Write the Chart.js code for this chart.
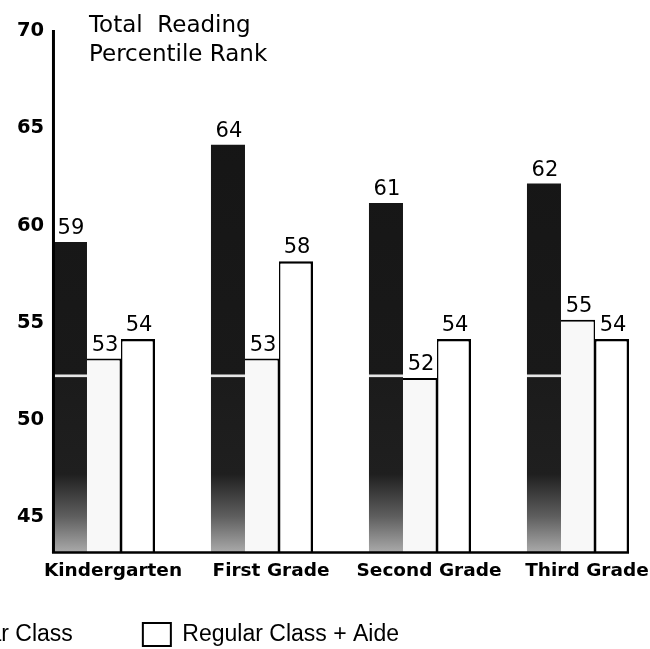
<!DOCTYPE html>
<html>
<head>
<meta charset="utf-8">
<script src="https://cdn.jsdelivr.net/npm/chart.js@4.4.0/dist/chart.umd.min.js"></script>
<style>
  html, body { margin: 0; padding: 0; background: #fff; overflow: hidden; width: 650px; height: 649px; }
  #wrap { position: absolute; left: -412px; top: 0; width: 1072px; height: 656px; }
</style>
</head>
<body>
<div id="wrap"><canvas id="chart" width="1072" height="656"></canvas></div>
<script>
// Total Reading percentile rank by grade and class type
const grades = ['Kindergarten', 'First Grade', 'Second Grade', 'Third Grade'];
const smallClass = [59, 64, 61, 62];
const regularClass = [53, 53, 52, 55];
const regularAide = [54, 58, 54, 54];
const seriesNames = ['Small Class', 'Regular Class', 'Regular Class + Aide'];
const yTicks = [45, 50, 55, 60, 65, 70];
const titleLines = ['Total  Reading', 'Percentile Rank'];

const INK = '#000';
const SEAM_VALUE = 52.1;   // light streak across the dark bars

let darkFill = null, darkKey = '';
function smallClassFill(ctx) {
  const chart = ctx.chart;
  const a = chart.chartArea;
  const ys = chart.scales && chart.scales.y;
  if (!a || !ys) return '#1a1a1a';
  const key = a.top + ':' + a.bottom;
  if (darkFill && darkKey === key) return darkFill;
  const h = a.bottom - a.top;
  const seam = (ys.getPixelForValue(SEAM_VALUE) - a.top) / h;
  const g = chart.ctx.createLinearGradient(0, a.top, 0, a.bottom);
  g.addColorStop(0, '#141414');
  g.addColorStop(seam - 0.004, '#191919');
  g.addColorStop(seam - 0.002, '#e6e6e6');
  g.addColorStop(seam + 0.001, '#e6e6e6');
  g.addColorStop(seam + 0.003, '#1b1b1b');
  g.addColorStop(0.85, '#1f1f1f');
  g.addColorStop(0.93, '#5e5e5e');
  g.addColorStop(1, '#ababab');
  darkFill = g; darkKey = key;
  return g;
}

const legendFills = ['#1a1a1a', '#f8f8f8', '#ffffff'];

const frame = {
  id: 'frame',
  afterDatasetsDraw(chart) {
    const { ctx, chartArea: a } = chart;
    const ys = chart.scales.y;
    const first = chart.getDatasetMeta(0).data[0];
    const lastBars = chart.getDatasetMeta(2).data;
    const last = lastBars[lastBars.length - 1];
    const left = first.x - first.width / 2;
    const right = last.x + last.width / 2;
    const base = ys.getPixelForValue(ys.min);

    ctx.save();
    ctx.strokeStyle = INK;
    // value axis line
    ctx.lineWidth = 3;
    ctx.beginPath();
    ctx.moveTo(left + 0.5, a.top + 2);
    ctx.lineTo(left + 0.5, base);
    ctx.stroke();
    // baseline
    ctx.lineWidth = 2.5;
    ctx.beginPath();
    ctx.moveTo(left - 1, base - 0.5);
    ctx.lineTo(right, base - 0.5);
    ctx.stroke();

    // value labels above each bar
    ctx.fillStyle = INK;
    ctx.font = '21px "DejaVu Sans"';
    ctx.textAlign = 'center';
    ctx.textBaseline = 'alphabetic';
    chart.data.datasets.forEach((ds, di) => {
      chart.getDatasetMeta(di).data.forEach((bar, i) => {
        ctx.fillText(String(ds.data[i]), bar.x + 1, bar.y - 8);
      });
    });

    // heading inside the plot
    ctx.font = '23px "DejaVu Sans"';
    ctx.textAlign = 'left';
    titleLines.forEach((t, k) => ctx.fillText(t, left + 36, a.top + 4 + k * 29));
    ctx.restore();
  }
};

new Chart(document.getElementById('chart'), {
  type: 'bar',
  data: {
    labels: grades,
    datasets: [
      {
        label: seriesNames[0],
        data: smallClass,
        backgroundColor: smallClassFill,
        borderWidth: 0
      },
      {
        label: seriesNames[1],
        data: regularClass,
        backgroundColor: '#f8f8f8',
        borderColor: INK,
        borderWidth: { top: 2, right: 1.5, left: 0, bottom: 0 }
      },
      {
        label: seriesNames[2],
        data: regularAide,
        backgroundColor: '#ffffff',
        borderColor: INK,
        borderWidth: { top: 2.5, right: 2.5, left: 1.5, bottom: 0 }
      }
    ]
  },
  plugins: [frame],
  options: {
    responsive: false,
    animation: false,
    devicePixelRatio: 1,
    events: [],
    layout: { padding: { top: 28, left: 0, right: 3, bottom: 0 } },
    datasets: { bar: { categoryPercentage: 0.646, barPercentage: 1.0 } },
    scales: {
      x: {
        grid: { display: false, drawTicks: false },
        border: { display: false },
        afterFit: s => { s.height = 0; s.paddingLeft = 0; s.paddingRight = 0; },
        ticks: {
          mirror: true,
          padding: -29,
          labelOffset: 9,
          maxRotation: 0,
          autoSkip: false,
          color: INK,
          font: { family: 'DejaVu Sans', weight: 'bold', size: 18.5 }
        }
      },
      y: {
        min: 43,
        max: 70,
        afterBuildTicks: s => { s.ticks = yTicks.map(v => ({ value: v })); },
        afterFit: s => { s.width = 437; },
        grid: { display: false, drawTicks: false },
        border: { display: false },
        ticks: {
          mirror: true,
          crossAlign: 'far',
          padding: -8,
          labelOffset: 3,
          color: INK,
          font: { family: 'DejaVu Sans', weight: 'bold', size: 19.5 }
        }
      }
    },
    plugins: {
      tooltip: { enabled: false },
      title: { display: false },
      legend: {
        position: 'bottom',
        align: 'start',
        labels: {
          color: INK,
          font: { family: 'Liberation Sans', size: 23 },
          boxWidth: 28,
          boxHeight: 23,
          padding: 70,
          generateLabels(chart) {
            const items = Chart.defaults.plugins.legend.labels.generateLabels(chart);
            items.forEach((it, i) => {
              it.fillStyle = legendFills[i];
              it.strokeStyle = INK;
              it.lineWidth = i === 0 ? 0 : 2;
            });
            return items;
          }
        }
      }
    }
  }
});
</script>
</body>
</html>
